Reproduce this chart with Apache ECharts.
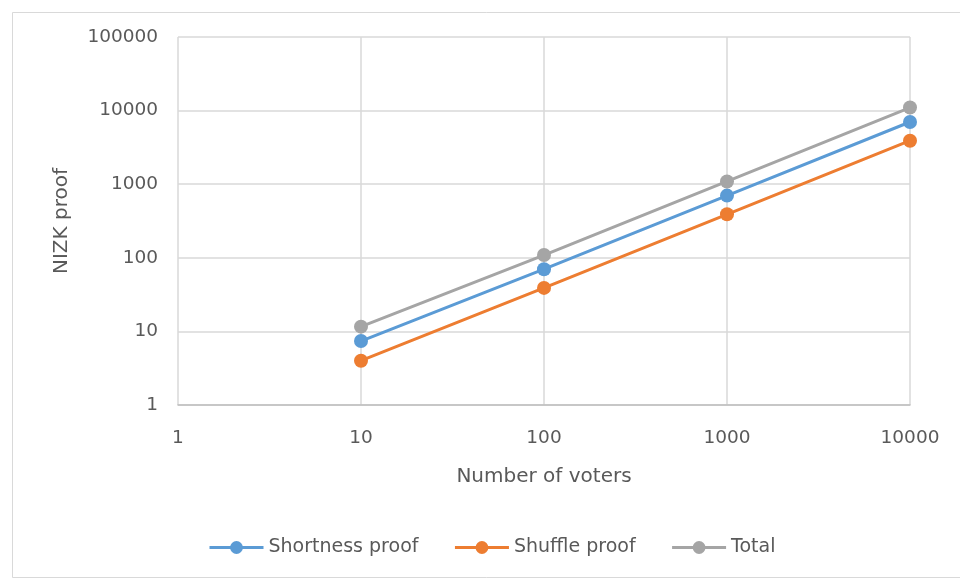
<!DOCTYPE html>
<html>
<head>
<meta charset="utf-8">
<script src="https://cdn.jsdelivr.net/npm/echarts@6/dist/echarts.min.js"></script>
<style>
  html, body { margin: 0; padding: 0; background: #fff; }
  #chart { width: 960px; height: 582px; }
</style>
</head>
<body>
<div id="chart"></div>
<script>
// voters on x, proof size on y (log-log)
var voters = [10, 100, 1000, 10000];
var shortness = [7.4, 70, 700, 7000];
var shuffle = [4, 39, 390, 3900];
var total = [11.6, 109, 1090, 11000];

var names = ['Shortness proof', 'Shuffle proof', 'Total'];
var colors = ['#5b9bd5', '#ed7d31', '#a5a5a5'];
var font = 'DejaVu Sans, sans-serif';

function pairs(vals) {
    return voters.map(function (v, i) { return [v, vals[i]]; });
}

function plain(v) {
    return String(Math.round(v));
}

function makeSeries(name, vals, color) {
    return {
        name: name,
        type: 'line',
        data: pairs(vals),
        symbol: 'circle',
        symbolSize: 14,
        lineStyle: { width: 3, color: color },
        itemStyle: { color: color },
        emphasis: { disabled: true },
        animation: false
    };
}

var chart = echarts.init(document.getElementById('chart'));
chart.setOption({
    backgroundColor: '#fff',
    textStyle: { fontFamily: font },
    graphic: [{
        type: 'rect',
        shape: { x: 12.5, y: 12.5, width: 960, height: 565 },
        style: { fill: 'none', stroke: '#d9d9d9', lineWidth: 1 },
        silent: true
    }],
    grid: { left: 178, right: 50, top: 37, bottom: 177 },
    xAxis: {
        type: 'log',
        logBase: 10,
        min: 1,
        max: 10000,
        name: 'Number of voters',
        nameLocation: 'middle',
        nameGap: 62,
        nameTextStyle: { fontSize: 20, color: '#595959', fontFamily: font },
        axisLine: { lineStyle: { color: '#bfbfbf', width: 1.5 } },
        axisTick: { show: false },
        axisLabel: { fontSize: 18.5, color: '#595959', margin: 24, fontFamily: font, formatter: plain },
        splitLine: { show: true, lineStyle: { color: '#d9d9d9', width: 1.5 } }
    },
    yAxis: {
        type: 'log',
        logBase: 10,
        min: 1,
        max: 100000,
        name: 'NIZK proof',
        nameLocation: 'middle',
        nameGap: 106,
        nameTextStyle: { fontSize: 20, color: '#595959', fontFamily: font },
        axisLine: { show: false },
        axisTick: { show: false },
        axisLabel: { fontSize: 18.5, color: '#595959', margin: 20, fontFamily: font, formatter: plain },
        splitLine: { show: true, lineStyle: { color: '#d9d9d9', width: 1.5 } }
    },
    legend: {
        top: 533,
        left: 203,
        itemWidth: 54,
        itemHeight: 16,
        itemGap: 35,
        data: names,
        lineStyle: { width: 3 },
        textStyle: { fontSize: 19, color: '#595959', fontFamily: font }
    },
    series: [
        makeSeries(names[0], shortness, colors[0]),
        makeSeries(names[1], shuffle, colors[1]),
        makeSeries(names[2], total, colors[2])
    ]
});
</script>
</body>
</html>
